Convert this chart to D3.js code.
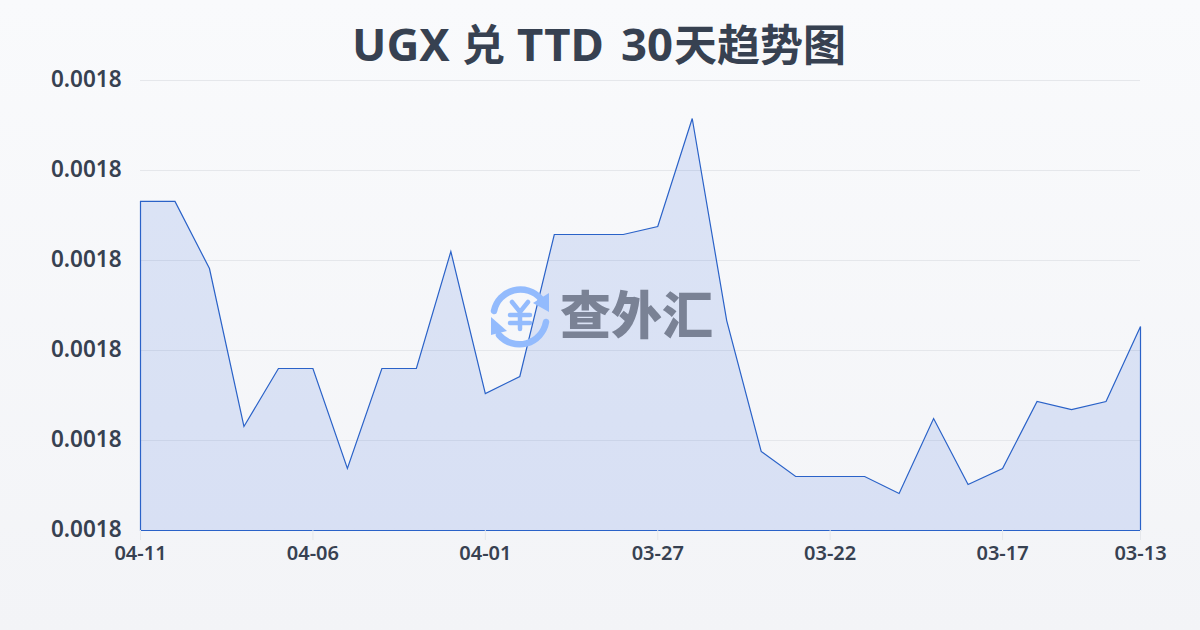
<!DOCTYPE html>
<html><head><meta charset="utf-8">
<script src="https://cdn.jsdelivr.net/npm/d3@7/dist/d3.min.js"></script>
<style>html,body{margin:0;padding:0;width:1200px;height:630px;overflow:hidden}</style>
</head><body><svg id="c" width="1200" height="630" xmlns="http://www.w3.org/2000/svg"></svg>
<script>
const titleRuns = [["UGX ",352,"l"],["兑 ",462,"c"],["TTD ",517,"l"],["30",621,"l"],["天趋势图",674,"c"]];
const watermarkText = "查外汇";
const dates = ["04-11","04-10","04-09","04-08","04-07","04-06","04-05","04-04","04-03","04-02","04-01","03-31","03-30","03-29","03-28","03-27","03-26","03-25","03-24","03-23","03-22","03-21","03-20","03-19","03-18","03-17","03-16","03-15","03-14","03-13"];
const rates = [0.00181656,0.00181656,0.00180911,0.00179156,0.00179800,0.00179800,0.00178689,0.00179800,0.00179800,0.00181100,0.00179522,0.00179711,0.00181289,0.00181289,0.00181289,0.00181378,0.00182578,0.00180333,0.00178878,0.00178600,0.00178600,0.00178600,0.00178411,0.00179244,0.00178511,0.00178689,0.00179433,0.00179344,0.00179433,0.00180267];
const yTicks = [0.00178,0.00179,0.00180,0.00181,0.00182,0.00183];
const xTickDates = ["04-11","04-06","04-01","03-27","03-22","03-17","03-13"];
const font = "'Noto Sans','Noto Sans CJK SC',sans-serif";
const ink = "#374151";

const svg = d3.select("#c");
const defs = svg.append("defs");
const bg = defs.append("linearGradient").attr("id","bg").attr("x1",0).attr("y1",0).attr("x2",0).attr("y2",1);
bg.append("stop").attr("offset",0).attr("stop-color","#f9fafc");
bg.append("stop").attr("offset",1).attr("stop-color","#f3f4f7");
svg.append("rect").attr("width",1200).attr("height",630).attr("fill","url(#bg)");

const x = d3.scalePoint().domain(dates).range([140,1140]);
const y = d3.scaleLinear().domain([0.00178,0.00183]).range([530,80]);

svg.append("g").selectAll("line").data(yTicks.slice(1)).join("line")
  .attr("x1",140).attr("x2",1140).attr("y1",d=>y(d)+.5).attr("y2",d=>y(d)+.5)
  .attr("stroke","#e5e7eb").attr("stroke-width",1);

const area = d3.area().x((d,i)=>x(dates[i])).y0(y(0.00178)).y1(d=>y(d));
svg.append("path").datum(rates).attr("d",area).attr("transform","translate(.5,.5)")
  .attr("fill","#2056d6").attr("fill-opacity",.13)
  .attr("stroke","#2a62c8").attr("stroke-width",1.2).attr("stroke-linejoin","miter");

const gx = svg.append("g").attr("transform","translate(0,530)")
  .call(d3.axisBottom(x).tickValues(xTickDates).tickSize(10).tickPadding(6));
gx.select(".domain").remove();
gx.selectAll("line").attr("stroke","#e5e7eb");
gx.selectAll("text").attr("font-family",font).attr("font-size",20).attr("font-weight",600).attr("fill",ink);

const gy = svg.append("g").attr("transform","translate(121.5,-1)")
  .call(d3.axisLeft(y).tickValues(yTicks).tickSize(0).tickPadding(0).tickFormat(d3.format(".4f")));
gy.select(".domain").remove();
gy.selectAll("text").attr("font-family",font).attr("font-size",22.5).attr("font-weight",600).attr("fill",ink);

const title = svg.append("text").attr("y",61).attr("font-family",font).attr("font-weight",700).attr("fill",ink);
title.selectAll("tspan").data(titleRuns).join("tspan")
  .attr("x",d=>d[1]).attr("font-size",d=>d[2]==="c"?43:45.5).text(d=>d[0]);

const wm = svg.append("g");
const icon = wm.append("g").attr("fill","none").attr("stroke","#93bbfd").attr("stroke-linecap","round");
icon.append("path").attr("stroke-width",6.5).attr("d","M494 311 A27 27 0 0 1 541 299");
icon.append("path").attr("stroke-width",6.5).attr("d","M546 322 A27 27 0 0 1 499 335");
icon.append("path").attr("stroke","none").attr("fill","#93bbfd").attr("d","M549 293 L549 312 L533 303 Z");
icon.append("path").attr("stroke","none").attr("fill","#93bbfd").attr("d","M491 317 L491 335 L507 331 Z");
icon.append("path").attr("stroke-width",4.5).attr("d","M512 302 L520 312 L528 302 M510 315 H530 M510 323 H530 M520 312 V329");
wm.append("text").attr("x",560).attr("y",334).attr("font-family","'Noto Sans CJK SC',sans-serif")
  .attr("font-size",51).attr("font-weight",900).attr("fill","#7a8295").text(watermarkText);
</script></body></html>
